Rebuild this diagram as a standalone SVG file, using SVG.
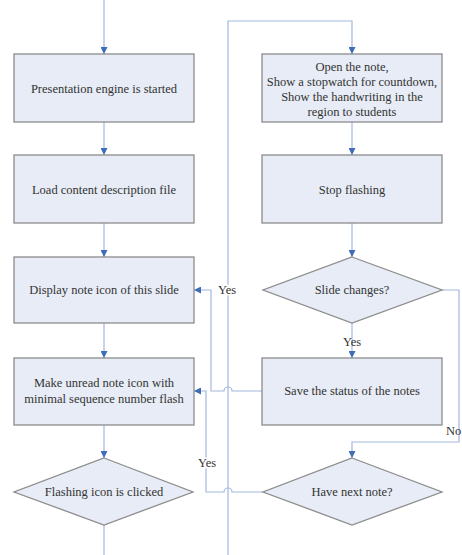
<svg xmlns="http://www.w3.org/2000/svg" width="462" height="555" viewBox="0 0 462 555">
  <style>
    .box { fill: #e7ecf6; stroke: #8c8c8c; stroke-width: 1.3; }
    .lbl { font-family: "Liberation Serif", "Times New Roman", serif; font-size: 12.5px; fill: #333; text-anchor: middle; dominant-baseline: central; }
    .wire { fill: none; stroke: #a3b7de; stroke-width: 1.2; }
  </style>
  <defs>
    <marker id="arrow" viewBox="0 0 10 10" refX="10" refY="5" markerWidth="7" markerHeight="7" markerUnits="userSpaceOnUse" orient="auto">
      <path d="M0,0 L10,5 L0,10 z" fill="#3f6cb8"/>
    </marker>
  </defs>
  <rect width="462" height="555" fill="#ffffff"/>

  <g id="connectors">
    <!-- left column flow -->
    <path class="wire" d="M104,0 V54" marker-end="url(#arrow)"/>
    <path class="wire" d="M104,122 V155" marker-end="url(#arrow)"/>
    <path class="wire" d="M104,223 V257" marker-end="url(#arrow)"/>
    <path class="wire" d="M104,323 V358" marker-end="url(#arrow)"/>
    <path class="wire" d="M104,425 V458" marker-end="url(#arrow)"/>
    <path class="wire" d="M104,525 V555"/>
    <!-- clicked icon route up to the note box -->
    <path class="wire" d="M228,555 V21 H352 V54" marker-end="url(#arrow)"/>
    <!-- right column flow -->
    <path class="wire" d="M352,122 V155" marker-end="url(#arrow)"/>
    <path class="wire" d="M352,223 V257" marker-end="url(#arrow)"/>
    <path class="wire" d="M352,323 V358" marker-end="url(#arrow)"/>
    <!-- No branch -->
    <path class="wire" d="M442,290 H459 V442 H352 V458" marker-end="url(#arrow)"/>
    <!-- save status back to display note icon -->
    <path class="wire" d="M262,391 H232 A4,4 0 0 0 224,391 H211 V290 H194" marker-end="url(#arrow)"/>
    <!-- next note back to flashing -->
    <path class="wire" d="M263,492 H232 A4,4 0 0 0 224,492 H206 V391 H194" marker-end="url(#arrow)"/>
    <text class="lbl" x="227" y="290" style="paint-order:stroke" stroke="#fff" stroke-width="3">Yes</text>
    <text class="lbl" x="352" y="342">Yes</text>
    <text class="lbl" x="207" y="463" style="paint-order:stroke" stroke="#fff" stroke-width="3">Yes</text>
    <text class="lbl" x="446" y="431" style="text-anchor:start">No</text>
  </g>

  <g id="engine-started">
    <rect class="box" x="14" y="54" width="180" height="68"/>
    <text class="lbl" x="104" y="89">Presentation engine is started</text>
  </g>
  <g id="load-description">
    <rect class="box" x="14" y="155" width="180" height="68"/>
    <text class="lbl" x="104" y="190">Load content description file</text>
  </g>
  <g id="display-note-icon">
    <rect class="box" x="14" y="257" width="180" height="66"/>
    <text class="lbl" x="104" y="290">Display note icon of this slide</text>
  </g>
  <g id="make-flash">
    <rect class="box" x="14" y="358" width="180" height="67"/>
    <text class="lbl" x="104" y="383">Make unread note icon with</text>
    <text class="lbl" x="104" y="399">minimal sequence number flash</text>
  </g>
  <g id="icon-clicked">
    <polygon class="box" points="104,458 193,492 104,525 14,492"/>
    <text class="lbl" x="104" y="492">Flashing icon is clicked</text>
  </g>

  <g id="open-note">
    <rect class="box" x="262" y="54" width="180" height="68"/>
    <text class="lbl" x="352" y="67">Open the note,</text>
    <text class="lbl" x="352" y="82">Show a stopwatch for countdown,</text>
    <text class="lbl" x="352" y="97">Show the handwriting in the</text>
    <text class="lbl" x="352" y="112">region to students</text>
  </g>
  <g id="stop-flashing">
    <rect class="box" x="262" y="155" width="180" height="68"/>
    <text class="lbl" x="352" y="190">Stop flashing</text>
  </g>
  <g id="slide-changes">
    <polygon class="box" points="352,257 442,290 352,323 263,290"/>
    <text class="lbl" x="352" y="290">Slide changes?</text>
  </g>
  <g id="save-status">
    <rect class="box" x="262" y="358" width="180" height="67"/>
    <text class="lbl" x="352" y="391">Save the status of the notes</text>
  </g>
  <g id="next-note">
    <polygon class="box" points="352,458 442,492 352,525 263,492"/>
    <text class="lbl" x="352" y="492">Have next note?</text>
  </g>
</svg>
